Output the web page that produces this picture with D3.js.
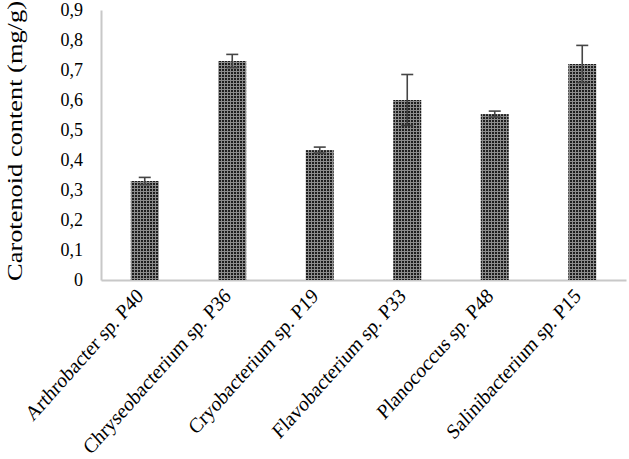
<!DOCTYPE html>
<html>
<head>
<meta charset="utf-8">
<script src="https://cdn.jsdelivr.net/npm/d3@7"></script>
<style>
  html, body { margin: 0; padding: 0; background: #fff; }
  svg { display: block; }
  text { font-family: "Liberation Serif", "Times New Roman", serif; fill: #000; }
</style>
</head>
<body>
<svg id="chart" width="629" height="459"></svg>
<script>
const categories = ["Arthrobacter sp. P40", "Chryseobacterium sp. P36", "Cryobacterium sp. P19", "Flavobacterium sp. P33", "Planococcus sp. P48", "Salinibacterium sp. P15"];
const values = [0.33, 0.73, 0.433, 0.60, 0.553, 0.72];
const errors = [0.012, 0.022, 0.010, 0.085, 0.010, 0.062];
const yTicks = [0, 0.1, 0.2, 0.3, 0.4, 0.5, 0.6, 0.7, 0.8, 0.9];
const yLabel = "Carotenoid content (mg/g)";

const svg = d3.select("#chart");
const mLeft = 101, mRight = 626, mTop = 10, mBottom = 280;

// checker pattern like Excel's fill
const defs = svg.append("defs");
const pat = defs.append("pattern").attr("id", "checker").attr("patternUnits", "userSpaceOnUse")
  .attr("width", 3).attr("height", 3);
pat.append("rect").attr("width", 3).attr("height", 3).attr("fill", "#8c8c8c");
pat.append("rect").attr("width", 2).attr("height", 2).attr("fill", "#1e1e1e");

const x = d3.scaleBand().domain(categories).range([mLeft, mRight]).paddingInner(0.68).paddingOuter(0.34);
const y = d3.scaleLinear().domain([0, 0.9]).range([mBottom, mTop]);

// y axis
const yAxis = d3.axisLeft(y).tickValues(yTicks).tickSize(0).tickPadding(18)
  .tickFormat(d => d === 0 ? "0" : d3.format(".1f")(d).replace(".", ","));
const yg = svg.append("g").attr("transform", `translate(${mLeft},0)`).call(yAxis);
yg.select(".domain").attr("stroke", "#c8c8c8").attr("stroke-width", 2);
yg.selectAll("text").attr("font-size", 18).attr("font-family", '"Liberation Serif", serif');

// x axis
const xAxis = d3.axisBottom(x).tickSize(0).tickSizeOuter(0).tickFormat(d => d);
const xg = svg.append("g").attr("transform", `translate(0,${mBottom})`).call(xAxis);
xg.select(".domain").attr("stroke", "#c8c8c8").attr("stroke-width", 2);
xg.selectAll("text")
  .attr("font-size", 19).attr("font-family", '"Liberation Serif", serif')
  .attr("text-anchor", "end")
  .attr("transform", "translate(-5,12) scale(1,1.12) rotate(-45)")
  .attr("dy", "0.35em").attr("y", 0).attr("x", 0);

// bars
svg.append("g").selectAll("rect").data(categories).join("rect")
  .attr("x", d => x(d))
  .attr("width", x.bandwidth())
  .attr("y", (d, i) => y(values[i]))
  .attr("height", (d, i) => y(0) - y(values[i]))
  .attr("fill", "url(#checker)");

// error bars
const eb = svg.append("g").attr("stroke", "#454545").attr("stroke-width", 1.6);
categories.forEach((c, i) => {
  const cx = x(c) + x.bandwidth() / 2;
  eb.append("line").attr("x1", cx).attr("x2", cx)
    .attr("y1", y(values[i] - errors[i])).attr("y2", y(values[i] + errors[i]));
  eb.append("line").attr("x1", cx - 6).attr("x2", cx + 6)
    .attr("y1", y(values[i] + errors[i])).attr("y2", y(values[i] + errors[i]));
  eb.append("line").attr("x1", cx - 6).attr("x2", cx + 6)
    .attr("y1", y(values[i] - errors[i])).attr("y2", y(values[i] - errors[i]));
});

// y label
svg.append("text")
  .attr("transform", `translate(22,${(mTop + mBottom) / 2 - 4}) rotate(-90) scale(1.2,1)`)
  .attr("text-anchor", "middle")
  .attr("font-size", 22)
  .text(yLabel);
</script>
</body>
</html>
